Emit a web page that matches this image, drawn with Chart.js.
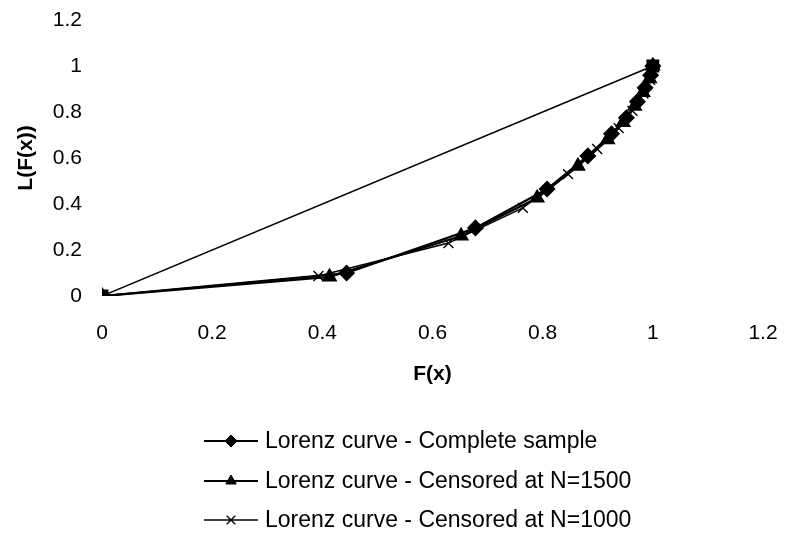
<!DOCTYPE html>
<html>
<head>
<meta charset="utf-8">
<script src="https://cdn.jsdelivr.net/npm/chart.js@4.4.1/dist/chart.umd.min.js"></script>
<style>
  html, body { margin: 0; padding: 0; background: #fff; }
  #wrap { width: 787px; height: 548px; }
</style>
</head>
<body>
<div id="wrap"><canvas id="lorenz" width="787" height="548"></canvas></div>
<script>
// data
const equalityX = [0, 1];
const equalityY = [0, 1];

const completeX = [0, 0.444, 0.678, 0.808, 0.882, 0.925, 0.952, 0.972, 0.986, 0.996, 1];
const completeY = [0, 0.100, 0.296, 0.465, 0.609, 0.705, 0.775, 0.845, 0.905, 0.960, 1];

const cens1500X = [0, 0.413, 0.652, 0.790, 0.864, 0.918, 0.946, 0.967, 0.982, 0.994, 1];
const cens1500Y = [0, 0.083, 0.261, 0.426, 0.565, 0.680, 0.755, 0.825, 0.885, 0.945, 1];

const cens1000X = [0, 0.393, 0.629, 0.764, 0.846, 0.899, 0.938, 0.963, 0.983, 0.995, 1];
const cens1000Y = [0, 0.087, 0.230, 0.383, 0.530, 0.639, 0.730, 0.805, 0.880, 0.940, 1];

const seriesLabels = [
  'Lorenz curve - Complete sample',
  'Lorenz curve - Censored at N=1500',
  'Lorenz curve - Censored at N=1000'
];

const xTicks = [0, 0.2, 0.4, 0.6, 0.8, 1, 1.2];
const yTicks = [0, 0.2, 0.4, 0.6, 0.8, 1, 1.2];

const pts = (xs, ys) => xs.map((x, i) => ({ x: x, y: ys[i] }));
const FONT = 'Liberation Sans, Arial, sans-serif';

// vertical legend under the plot, like the original
const legendBelow = {
  id: 'legendBelow',
  afterDraw(chart) {
    const ctx = chart.ctx;
    const rows = [441, 481, 520];
    ctx.save();
    chart.data.datasets.forEach((ds, i) => {
      if (ds.hideInLegend) return;
      const y = rows[i - 1];
      ctx.strokeStyle = '#000';
      ctx.lineWidth = i === 3 ? 1.3 : 2;
      ctx.beginPath();
      ctx.moveTo(204, y);
      ctx.lineTo(258, y);
      ctx.stroke();
      const style = { pointStyle: ds.pointStyle, rotation: 0, radius: 6, borderWidth: ds.pointBorderWidth || 1 };
      ctx.fillStyle = '#000';
      ctx.strokeStyle = '#000';
      ctx.lineWidth = style.borderWidth;
      Chart.helpers.drawPoint(ctx, style, 231, y);
      ctx.fillStyle = '#000';
      ctx.font = '23px ' + FONT;
      ctx.textAlign = 'left';
      ctx.textBaseline = 'middle';
      ctx.fillText(ds.label, 265, y + 1);
    });
    ctx.restore();
  }
};

new Chart(document.getElementById('lorenz'), {
  type: 'scatter',
  data: {
    datasets: [
      {
        label: 'equality',
        hideInLegend: true,
        data: pts(equalityX, equalityY),
        showLine: true,
        borderColor: '#000',
        borderWidth: 1.5,
        pointStyle: 'rect',
        pointRadius: 8,
        backgroundColor: '#000'
      },
      {
        label: seriesLabels[0],
        data: pts(completeX, completeY),
        showLine: true,
        borderColor: '#000',
        borderWidth: 2.2,
        pointStyle: 'rectRot',
        pointRadius: 7,
        backgroundColor: '#000'
      },
      {
        label: seriesLabels[1],
        data: pts(cens1500X, cens1500Y),
        showLine: true,
        borderColor: '#000',
        borderWidth: 2.2,
        pointStyle: 'triangle',
        pointRadius: 7,
        backgroundColor: '#000'
      },
      {
        label: seriesLabels[2],
        data: pts(cens1000X, cens1000Y),
        showLine: true,
        borderColor: '#000',
        borderWidth: 1.6,
        pointStyle: 'crossRot',
        pointRadius: 7,
        pointBorderWidth: 1.4,
        backgroundColor: '#000'
      }
    ]
  },
  options: {
    responsive: false,
    animation: false,
    layout: { padding: { top: 20, right: 24, bottom: 152, left: 0 } },
    plugins: {
      legend: { display: false },
      tooltip: { enabled: false }
    },
    scales: {
      x: {
        type: 'linear',
        min: 0,
        max: 1.2,
        border: { display: false },
        grid: { display: false, drawTicks: false },
        afterBuildTicks: s => { s.ticks = xTicks.map(v => ({ value: v })); },
        afterFit: s => { s.height = 100; s.paddingLeft = 0; s.paddingRight = 0; },
        ticks: {
          autoSkip: false,
          maxRotation: 0,
          padding: 25,
          color: '#000',
          font: { family: FONT, size: 21 },
          callback: v => String(v)
        },
        title: {
          display: true,
          text: 'F(x)',
          color: '#000',
          font: { family: FONT, size: 21, weight: 'bold' },
          padding: { top: 0, bottom: 9 }
        }
      },
      y: {
        type: 'linear',
        min: 0,
        max: 1.2,
        border: { display: false },
        grid: { display: false, drawTicks: false },
        afterBuildTicks: s => { s.ticks = yTicks.map(v => ({ value: v })); },
        afterFit: s => { s.width = 102; s.paddingTop = 0; s.paddingBottom = 0; },
        ticks: {
          padding: 20,
          color: '#000',
          font: { family: FONT, size: 21 },
          callback: v => String(v)
        },
        title: {
          display: true,
          text: 'L(F(x))',
          color: '#000',
          font: { family: FONT, size: 21, weight: 'bold' },
          padding: { top: 14, bottom: 0 }
        }
      }
    }
  },
  plugins: [legendBelow]
});
</script>
</body>
</html>
